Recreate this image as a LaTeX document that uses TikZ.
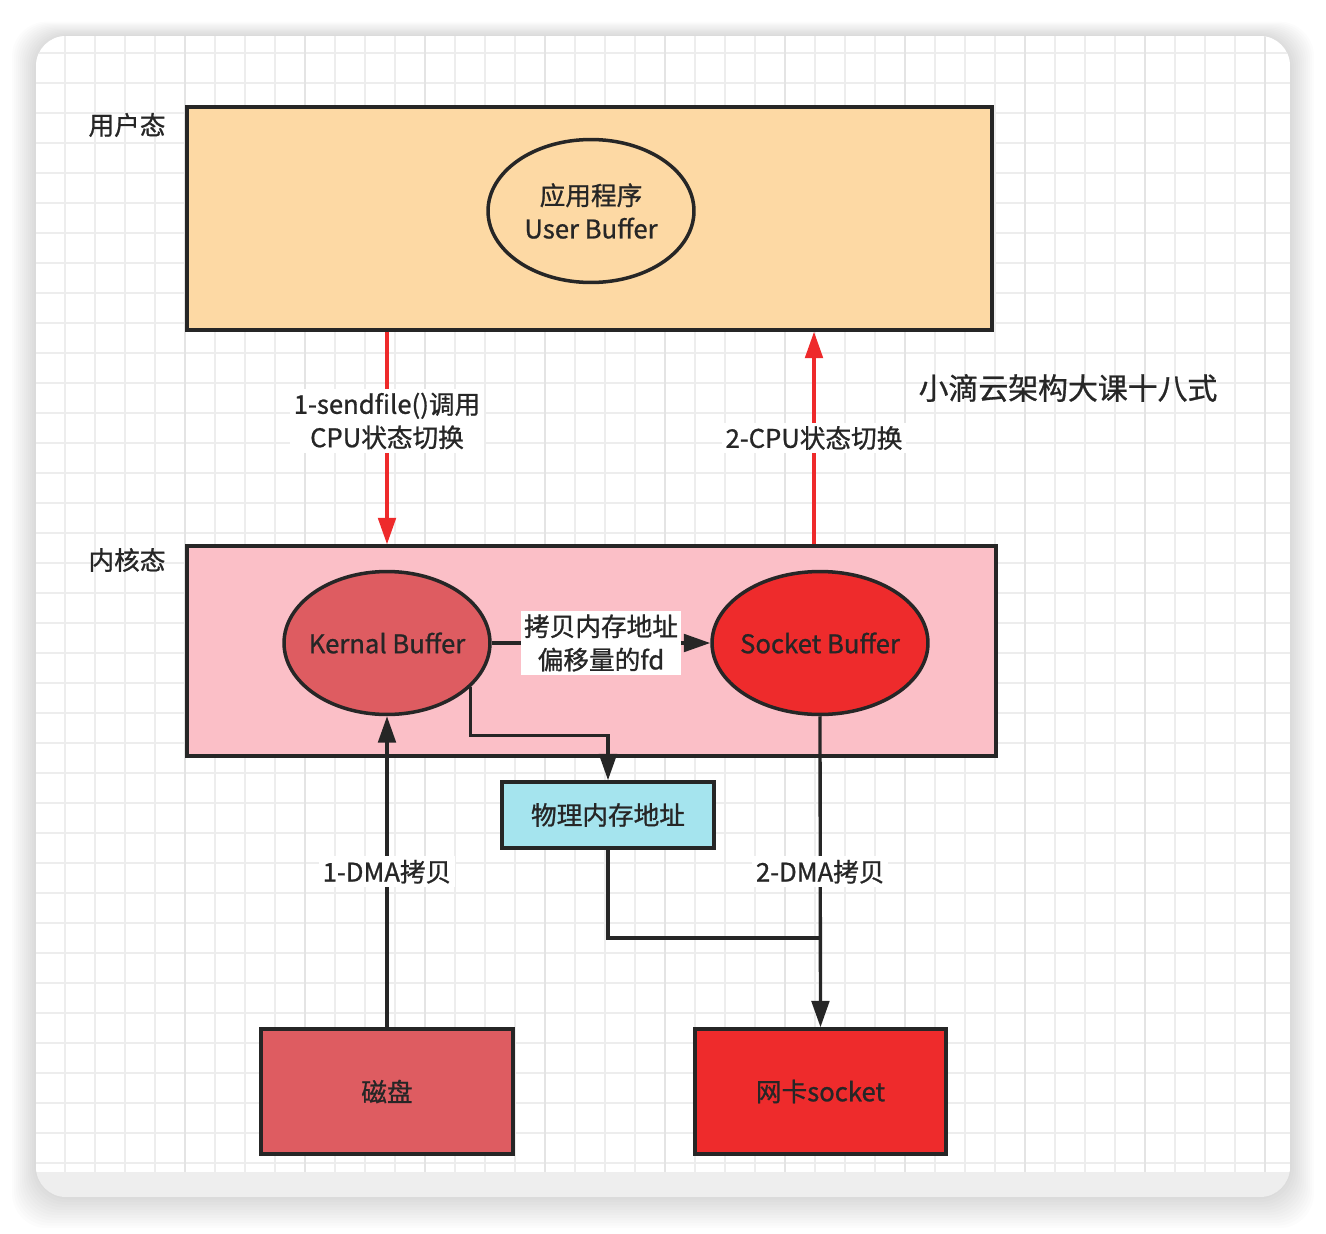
\documentclass[tikz,border=0pt]{standalone}
\usepackage{fontspec}
\setmainfont{Noto Sans CJK SC}[RawFeature={embolden=0.9}]
\usetikzlibrary{shapes.geometric,arrows.meta}
\definecolor{ink}{HTML}{262626}
\definecolor{userc}{HTML}{FDD9A4}
\definecolor{kernc}{HTML}{FBBFC7}
\definecolor{kbufc}{HTML}{DE5C61}
\definecolor{sbufc}{HTML}{EE2B2C}
\definecolor{physc}{HTML}{A5E4EE}
\definecolor{cpured}{HTML}{EE2A2B}
\definecolor{gridc}{HTML}{EDEDED}
\definecolor{gridm}{HTML}{E4E4E4}
\definecolor{cardc}{HTML}{EEEEEE}
\tikzstyle{txt}=[text=ink,font=\fontsize{14.6}{19}\selectfont]
\tikzstyle{block}=[txt,draw=ink,line width=2pt,inner sep=0pt]
\tikzstyle{buf}=[block,ellipse,minimum height=2.86cm]
\tikzstyle{conn}=[draw=ink,line width=1.9pt]
\tikzstyle{darr}=[conn,-{Triangle[length=15pt,width=10pt]}]
\tikzstyle{rarr}=[draw=cpured,line width=1.9pt,-{Triangle[length=15pt,width=10pt]}]
\tikzstyle{lbl}=[txt,fill=white,inner sep=2pt,align=center]

\begin{document}
\begin{tikzpicture}[x=0.02cm,y=-0.02cm]
\useasboundingbox (0,0) rectangle (1326,1234);
% card with shadow and grid
\foreach \i in {1,...,12}
  \fill[black,opacity=0.012,rounded corners=0.7cm] (36-\i*2,36-\i*1.2) rectangle (1290+\i*2,1197+\i*2.6);
\begin{scope}
\clip[rounded corners=0.6cm] (36,36) rectangle (1290,1197);
\fill[cardc] (36,36) rectangle (1290,1197);
\fill[white] (36,36) rectangle (1290,1172);
\foreach \x in {65,95,...,1265} \draw[gridc,line width=1pt] (\x,36) -- (\x,1172);
\foreach \y in {53,83,...,1163} \draw[gridc,line width=1pt] (36,\y) -- (1290,\y);
\foreach \x in {185,305,...,1265} \draw[gridm,line width=1pt] (\x,36) -- (\x,1172);
\end{scope}

% boxes
\node[block,fill=userc,minimum width=16.1cm,minimum height=4.46cm] (upbox) at (589.5,218.5) {};
\node[block,fill=kernc,minimum width=16.18cm,minimum height=4.2cm] (kbox) at (591.5,651) {};
\node[txt] (ulabel) at (127,125) {用户态};
\node[txt] (klabel) at (127,560) {内核态};
\node[txt,font=\fontsize{17}{22}\selectfont] (title) at (1068,388) {小滴云架构大课十八式};

\node[buf,fill=userc,minimum width=4.12cm,label={[txt,align=center]center:应用程序\\User Buffer}] (ubuf) at (591,211) {};
\node[buf,fill=kbufc,minimum width=4.12cm,label={[txt]center:Kernal Buffer}] (kbuf) at (387,643) {};
\node[buf,fill=sbufc,minimum width=4.32cm,label={[txt]center:Socket Buffer}] (sbuf) at (820,643) {};
\node[block,fill=physc,minimum width=4.24cm,minimum height=1.32cm] (phys) at (608,815) {物理内存地址};
\node[block,fill=kbufc,minimum width=5.04cm,minimum height=2.5cm] (disk) at (387,1091.5) {磁盘};
\node[block,fill=sbufc,minimum width=5.02cm,minimum height=2.5cm] (nic) at (820.5,1091.5) {网卡socket};

\path (sbuf.center) ++(-6,0) coordinate (ret);
\coordinate (merge) at (820,938);

% connectors
\draw[rarr] (upbox.south -| kbuf.center) -- (kbox.north -| kbuf.center) node[lbl,pos=0.42]{1-sendfile()调用\\CPU状态切换};
\draw[rarr] (kbox.north -| ret) -- (upbox.south -| ret) node[lbl,midway]{2-CPU状态切换};
\draw[darr] (disk.north) -- (kbuf.south) node[lbl,midway]{1-DMA拷贝};
\draw[darr] (kbuf.east) -- (sbuf.west) node[lbl,midway]{拷贝内存地址\\偏移量的fd};
\draw[darr] (kbuf.-28) -- ++(0,48) -| (phys.north);
\draw[darr] (sbuf.south) -- (nic.north) node[lbl,midway]{2-DMA拷贝};
\draw[conn] (phys.south) |- (merge);
\end{tikzpicture}
\end{document}
